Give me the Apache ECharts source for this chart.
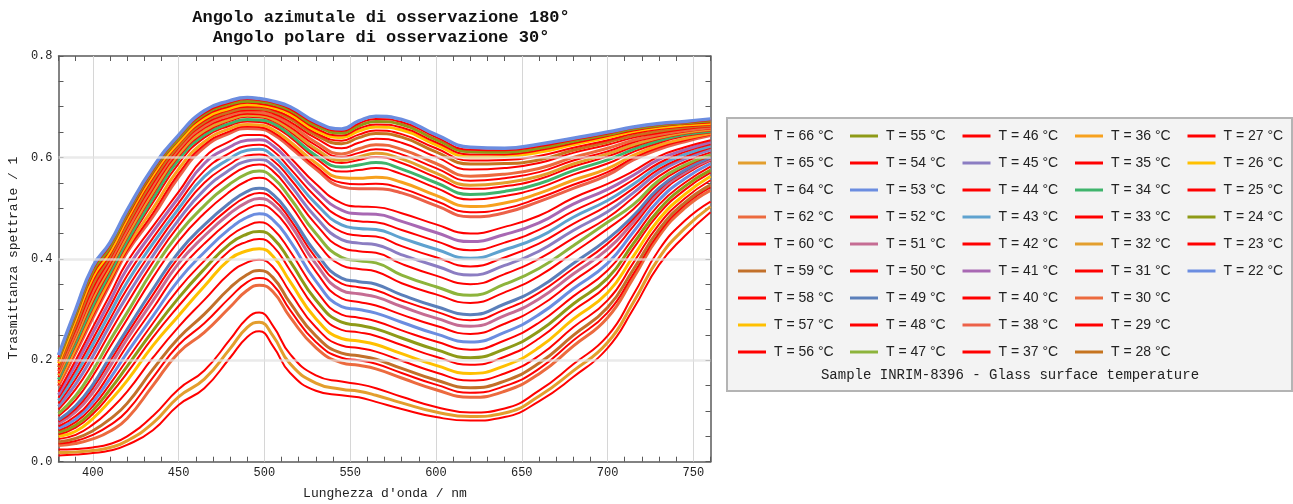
<!DOCTYPE html>
<html><head><meta charset="utf-8">
<script src="https://cdn.jsdelivr.net/npm/echarts@6/dist/echarts.min.js"></script>
<style>html,body{margin:0;padding:0;background:#fff}#c{width:1293px;height:504px}</style>
</head><body><div id="c"></div>
<script>
// wavelengths (nm)
const wavelengths = [380,390,400,410,420,435,450,465,480,490,497,505,515,530,545,555,565,580,600,620,640,660,680,700,715,730,745,760];
// spectral transmittance per surface temperature
const T66 = [0.012,0.014,0.017,0.022,0.033,0.062,0.112,0.145,0.205,0.246,0.257,0.228,0.175,0.140,0.131,0.127,0.118,0.104,0.088,0.081,0.088,0.119,0.167,0.224,0.301,0.388,0.445,0.492];
const T65 = [0.018,0.019,0.022,0.028,0.041,0.076,0.128,0.163,0.223,0.265,0.275,0.248,0.193,0.155,0.143,0.139,0.131,0.116,0.098,0.089,0.096,0.129,0.179,0.235,0.314,0.402,0.460,0.503];
const T64 = [0.024,0.025,0.028,0.035,0.050,0.090,0.143,0.180,0.241,0.283,0.294,0.268,0.212,0.170,0.158,0.153,0.145,0.128,0.108,0.097,0.105,0.140,0.192,0.248,0.329,0.418,0.475,0.513];
const T62 = [0.032,0.036,0.045,0.060,0.085,0.150,0.215,0.255,0.305,0.338,0.348,0.335,0.285,0.225,0.195,0.190,0.183,0.165,0.142,0.127,0.139,0.173,0.228,0.284,0.362,0.445,0.500,0.535];
const T60 = [0.036,0.041,0.053,0.072,0.100,0.166,0.230,0.273,0.324,0.354,0.362,0.349,0.299,0.236,0.205,0.200,0.193,0.175,0.152,0.136,0.149,0.183,0.239,0.294,0.370,0.451,0.506,0.541];
const T59 = [0.039,0.046,0.061,0.084,0.115,0.182,0.244,0.291,0.343,0.369,0.377,0.363,0.313,0.248,0.214,0.209,0.202,0.184,0.161,0.146,0.159,0.194,0.249,0.304,0.379,0.458,0.511,0.546];
const T58 = [0.045,0.053,0.073,0.102,0.138,0.205,0.266,0.319,0.372,0.393,0.398,0.384,0.334,0.265,0.229,0.224,0.217,0.199,0.176,0.160,0.174,0.209,0.265,0.318,0.392,0.468,0.519,0.555];
const T57 = [0.050,0.060,0.085,0.120,0.160,0.229,0.288,0.346,0.400,0.416,0.420,0.405,0.355,0.282,0.243,0.238,0.231,0.213,0.190,0.174,0.189,0.225,0.281,0.333,0.405,0.478,0.527,0.563];
const T56 = [0.054,0.067,0.094,0.132,0.175,0.245,0.307,0.364,0.417,0.434,0.439,0.425,0.377,0.302,0.260,0.255,0.248,0.230,0.207,0.191,0.207,0.243,0.298,0.349,0.420,0.489,0.536,0.570];
const T55 = [0.058,0.072,0.101,0.142,0.188,0.258,0.323,0.380,0.430,0.449,0.454,0.441,0.395,0.319,0.275,0.269,0.262,0.244,0.221,0.205,0.222,0.257,0.311,0.362,0.430,0.497,0.543,0.575];
const T54 = [0.062,0.078,0.109,0.153,0.201,0.273,0.341,0.396,0.445,0.465,0.472,0.459,0.415,0.338,0.290,0.284,0.277,0.259,0.237,0.221,0.239,0.274,0.326,0.377,0.441,0.507,0.550,0.582];
const T53 = [0.066,0.084,0.117,0.164,0.215,0.287,0.358,0.413,0.460,0.482,0.489,0.477,0.435,0.356,0.306,0.300,0.293,0.275,0.252,0.236,0.255,0.290,0.341,0.391,0.453,0.516,0.558,0.588];
const T52 = [0.070,0.090,0.125,0.175,0.229,0.302,0.376,0.430,0.475,0.498,0.506,0.495,0.455,0.375,0.322,0.315,0.308,0.290,0.268,0.252,0.272,0.306,0.356,0.406,0.464,0.526,0.566,0.594];
const T51 = [0.075,0.098,0.136,0.188,0.242,0.317,0.391,0.445,0.490,0.512,0.519,0.508,0.468,0.390,0.338,0.331,0.325,0.306,0.283,0.267,0.288,0.321,0.370,0.419,0.472,0.532,0.570,0.596];
const T50 = [0.079,0.104,0.145,0.198,0.252,0.329,0.403,0.457,0.501,0.523,0.530,0.518,0.478,0.402,0.351,0.344,0.338,0.318,0.296,0.279,0.300,0.333,0.381,0.430,0.479,0.536,0.573,0.598];
const T49 = [0.082,0.110,0.152,0.207,0.261,0.340,0.413,0.467,0.511,0.533,0.539,0.527,0.487,0.412,0.362,0.355,0.350,0.329,0.306,0.290,0.311,0.343,0.391,0.439,0.485,0.540,0.575,0.600];
const T48 = [0.090,0.122,0.169,0.226,0.281,0.363,0.435,0.490,0.533,0.554,0.560,0.547,0.507,0.435,0.387,0.380,0.375,0.352,0.330,0.313,0.334,0.366,0.412,0.459,0.498,0.549,0.581,0.603];
const T47 = [0.095,0.130,0.180,0.239,0.294,0.378,0.450,0.505,0.548,0.568,0.573,0.560,0.520,0.450,0.403,0.396,0.392,0.368,0.345,0.328,0.350,0.381,0.426,0.472,0.507,0.555,0.585,0.605];
const T46 = [0.103,0.143,0.195,0.255,0.312,0.393,0.465,0.522,0.563,0.582,0.586,0.573,0.534,0.468,0.422,0.415,0.412,0.390,0.367,0.350,0.370,0.400,0.441,0.481,0.521,0.563,0.591,0.610];
const T45 = [0.109,0.153,0.208,0.269,0.327,0.406,0.477,0.536,0.576,0.593,0.596,0.584,0.546,0.482,0.438,0.431,0.428,0.408,0.386,0.368,0.387,0.415,0.456,0.493,0.530,0.571,0.597,0.615];
const T44 = [0.115,0.163,0.220,0.281,0.341,0.418,0.489,0.550,0.587,0.604,0.606,0.594,0.558,0.496,0.453,0.446,0.444,0.425,0.403,0.385,0.403,0.430,0.469,0.505,0.539,0.577,0.601,0.619];
const T43 = [0.121,0.172,0.231,0.293,0.354,0.430,0.499,0.562,0.598,0.614,0.616,0.603,0.568,0.509,0.467,0.460,0.458,0.441,0.419,0.401,0.418,0.443,0.482,0.515,0.547,0.583,0.606,0.622];
const T42 = [0.126,0.181,0.242,0.305,0.367,0.441,0.510,0.574,0.609,0.623,0.625,0.613,0.578,0.522,0.481,0.474,0.472,0.457,0.435,0.417,0.432,0.457,0.494,0.526,0.556,0.589,0.611,0.626];
const T41 = [0.132,0.191,0.254,0.317,0.381,0.453,0.521,0.588,0.621,0.634,0.635,0.623,0.590,0.535,0.496,0.489,0.488,0.474,0.452,0.434,0.448,0.471,0.508,0.537,0.565,0.596,0.615,0.630];
const T40 = [0.138,0.200,0.265,0.329,0.394,0.464,0.532,0.600,0.632,0.644,0.644,0.632,0.600,0.548,0.510,0.503,0.502,0.490,0.468,0.450,0.463,0.485,0.520,0.548,0.573,0.602,0.620,0.634];
const T38 = [0.149,0.214,0.283,0.350,0.413,0.483,0.561,0.620,0.648,0.657,0.656,0.646,0.620,0.577,0.542,0.538,0.538,0.530,0.505,0.483,0.491,0.513,0.539,0.565,0.595,0.616,0.631,0.643];
const T37 = [0.152,0.218,0.288,0.354,0.417,0.490,0.568,0.625,0.652,0.661,0.660,0.650,0.625,0.582,0.550,0.547,0.548,0.539,0.514,0.492,0.499,0.520,0.546,0.571,0.599,0.620,0.634,0.645];
const T36 = [0.155,0.223,0.294,0.360,0.423,0.499,0.577,0.631,0.657,0.665,0.664,0.655,0.631,0.589,0.560,0.559,0.561,0.551,0.525,0.503,0.510,0.529,0.555,0.578,0.604,0.624,0.637,0.647];
const T35 = [0.159,0.230,0.303,0.367,0.430,0.511,0.588,0.639,0.663,0.671,0.670,0.662,0.640,0.598,0.572,0.575,0.579,0.567,0.540,0.517,0.524,0.540,0.566,0.588,0.611,0.629,0.642,0.649];
const T34 = [0.162,0.235,0.308,0.372,0.435,0.519,0.596,0.644,0.667,0.675,0.674,0.667,0.645,0.604,0.581,0.585,0.590,0.577,0.550,0.527,0.533,0.548,0.574,0.595,0.616,0.633,0.645,0.651];
const T33 = [0.167,0.241,0.316,0.379,0.442,0.527,0.602,0.649,0.672,0.680,0.679,0.672,0.651,0.612,0.589,0.595,0.601,0.589,0.561,0.538,0.543,0.557,0.582,0.602,0.621,0.637,0.647,0.653];
const T32 = [0.170,0.245,0.322,0.384,0.446,0.532,0.606,0.653,0.675,0.683,0.682,0.675,0.655,0.617,0.594,0.601,0.608,0.597,0.569,0.545,0.550,0.563,0.587,0.607,0.625,0.639,0.649,0.655];
const T31 = [0.174,0.250,0.328,0.389,0.452,0.538,0.611,0.658,0.679,0.686,0.685,0.679,0.660,0.624,0.601,0.609,0.616,0.606,0.579,0.554,0.559,0.571,0.594,0.612,0.630,0.642,0.651,0.657];
const T30 = [0.178,0.255,0.335,0.395,0.457,0.544,0.616,0.662,0.683,0.690,0.689,0.683,0.665,0.630,0.607,0.617,0.625,0.616,0.588,0.563,0.567,0.578,0.600,0.618,0.634,0.645,0.653,0.659];
const T29 = [0.182,0.261,0.342,0.400,0.463,0.549,0.620,0.666,0.687,0.693,0.693,0.687,0.670,0.638,0.618,0.629,0.637,0.629,0.601,0.576,0.579,0.589,0.609,0.625,0.639,0.648,0.656,0.661];
const T28 = [0.186,0.268,0.350,0.405,0.468,0.555,0.623,0.670,0.690,0.697,0.696,0.691,0.676,0.644,0.627,0.639,0.647,0.640,0.611,0.587,0.588,0.595,0.614,0.630,0.643,0.652,0.659,0.663];
const T27 = [0.190,0.274,0.357,0.409,0.474,0.560,0.627,0.673,0.694,0.700,0.700,0.694,0.680,0.648,0.633,0.645,0.653,0.646,0.618,0.594,0.595,0.603,0.619,0.634,0.647,0.656,0.661,0.665];
const T26 = [0.194,0.280,0.364,0.414,0.479,0.565,0.630,0.677,0.697,0.704,0.703,0.698,0.685,0.653,0.639,0.652,0.660,0.654,0.625,0.601,0.602,0.610,0.625,0.639,0.651,0.659,0.664,0.667];
const T25 = [0.198,0.285,0.369,0.419,0.483,0.569,0.634,0.681,0.701,0.708,0.706,0.701,0.689,0.657,0.643,0.657,0.665,0.659,0.630,0.606,0.606,0.614,0.628,0.642,0.653,0.661,0.666,0.669];
const T24 = [0.202,0.290,0.375,0.423,0.488,0.573,0.637,0.685,0.705,0.711,0.710,0.705,0.693,0.662,0.648,0.662,0.671,0.665,0.635,0.611,0.610,0.618,0.632,0.645,0.656,0.663,0.668,0.672];
const T23 = [0.206,0.295,0.380,0.428,0.492,0.576,0.641,0.688,0.708,0.715,0.713,0.708,0.696,0.666,0.652,0.667,0.676,0.670,0.640,0.615,0.614,0.622,0.635,0.647,0.658,0.665,0.669,0.674];
const T22 = [0.210,0.300,0.385,0.432,0.496,0.580,0.644,0.692,0.712,0.718,0.716,0.711,0.700,0.670,0.656,0.672,0.681,0.675,0.645,0.620,0.618,0.626,0.638,0.650,0.660,0.667,0.671,0.676];

const legendColumns = [
  [66,65,64,62,60,59,58,57,56],
  [55,54,53,52,51,50,49,48,47],
  [46,45,44,43,42,41,40,38,37],
  [36,35,34,33,32,31,30,29,28],
  [27,26,25,24,23,22]
];
const xTickLabels = [400,450,500,550,600,650,700,750];
const yTickLabels = [0.0,0.2,0.4,0.6,0.8];
const titleLines = ['Angolo azimutale di osservazione 180°','Angolo polare di osservazione 30°'];
const xName = "Lunghezza d'onda / nm";
const yName = 'Trasmittanza spettrale / 1';
const legendTitle = 'Sample INRIM-8396 - Glass surface temperature';

const curves = {66:T66,65:T65,64:T64,62:T62,60:T60,59:T59,58:T58,57:T57,56:T56,55:T55,54:T54,53:T53,52:T52,51:T51,50:T50,49:T49,48:T48,47:T47,46:T46,45:T45,44:T44,43:T43,42:T42,41:T41,40:T40,38:T38,37:T37,36:T36,35:T35,34:T34,33:T33,32:T32,31:T31,30:T30,29:T29,28:T28,27:T27,26:T26,25:T25,24:T24,23:T23,22:T22};

const RED = '#ff0000';
const palette = {
  65:'#e39e2d',32:'#e39e2d',
  62:'#ec6a3e',30:'#ec6a3e',
  59:'#c2702a',28:'#c6741f',
  57:'#ffc000',26:'#ffc000',
  55:'#8e9a17',24:'#8e9a17',
  53:'#6b8de0',22:'#6b8de0',
  51:'#c56c93',49:'#5b7fba',47:'#8db43c',45:'#8b7dc2',43:'#5ea2cf',41:'#a868b3',
  38:'#ec6148',36:'#f7a11e',34:'#3fb46c'
};
const colorOf = t => palette[t] || RED;
const nameOf = t => 'T = ' + t + ' °C';

const order = [].concat(...legendColumns);
const series = order.map(t => {
  const c = colorOf(t);
  return {
    name: nameOf(t), type: 'line', xAxisIndex: 0, yAxisIndex: 0,
    data: wavelengths.map((w, i) => [w, curves[t][i]]),
    smooth: 0.5, symbol: 'none', showSymbol: false, silent: true,
    lineStyle: {color: c, width: t === 22 ? 3.5 : (c === RED ? 2 : 3)},
    itemStyle: {color: c},
    z: 2, animation: false
  };
});
// vertical grid lines (behind curves)
series.push({type:'line', xAxisIndex:0, yAxisIndex:0, data:[], silent:true,
  markLine:{silent:true, symbol:'none', z:1, animation:false, label:{show:false},
    lineStyle:{color:'#d6d6d6', width:1, type:'solid'},
    data: xTickLabels.map(v => ({xAxis: v}))}});
// horizontal grid lines (drawn over curves, semi-transparent)
series.push({type:'line', xAxisIndex:0, yAxisIndex:0, data:[], silent:true,
  markLine:{silent:true, symbol:'none', z:10, animation:false, label:{show:false},
    lineStyle:{color:'rgba(226,226,226,0.72)', width:2.5, type:'solid'},
    data: yTickLabels.slice(1,4).map(v => ({yAxis: v}))}});

const MONO = 'Liberation Mono, Courier New, monospace';
const axisLineStyle = {color:'#5a5a5a', width:1.5};
const tickStyle = {show:true, inside:true, length:5, lineStyle:{color:'#5a5a5a', width:1}};

const GL = 58.5, GT = 56, GW = 652, GH = 405.7;
const chart = echarts.init(document.getElementById('c'), null, {renderer:'canvas'});
chart.setOption({
  animation: false,
  backgroundColor: '#ffffff',
  grid: {left: GL, top: GT, width: GW, height: GH, containLabel: false},
  xAxis: [
    {type:'value', min:380, max:760, interval:10, position:'bottom',
     axisLine:{show:true, onZero:false, lineStyle:axisLineStyle}, axisTick:tickStyle,
     axisLabel:{formatter: v => xTickLabels.includes(Math.round(v)) ? String(Math.round(v)) : '', color:'#222', fontFamily:MONO, fontSize:12, margin:5},
     splitLine:{show:false}},
    {type:'value', min:380, max:760, interval:10, position:'top',
     axisLine:{show:true, onZero:false, lineStyle:axisLineStyle}, axisTick:tickStyle,
     axisLabel:{show:false}, splitLine:{show:false}}
  ],
  yAxis: [
    {type:'value', min:0, max:0.8, interval:0.05, position:'left',
     axisLine:{show:true, onZero:false, lineStyle:axisLineStyle}, axisTick:tickStyle,
     axisLabel:{formatter: v => { const r = Math.round(v*100); return (r % 20 === 0) ? (r/100).toFixed(1) : ''; }, color:'#222', fontFamily:MONO, fontSize:12, margin:6},
     splitLine:{show:false}},
    {type:'value', min:0, max:0.8, interval:0.05, position:'right',
     axisLine:{show:true, onZero:false, lineStyle:axisLineStyle}, axisTick:tickStyle,
     axisLabel:{show:false}, splitLine:{show:false}}
  ],
  legend: legendColumns.map((col, ci) => ({
    orient:'vertical', left: [738, 850, 962.5, 1075, 1187.5][ci], top: 129,
    padding: 0, itemWidth: 28, itemHeight: 3, itemGap: 13, icon: 'rect',
    selectedMode: false,
    itemStyle: {borderWidth: 0},
    textStyle: {fontFamily:'Liberation Sans, Arial, sans-serif', fontSize:14, color:'#222', lineHeight:14, padding:[0,0,0,3]},
    data: col.map(nameOf)
  })),
  graphic: [
    {type:'rect', z:-1, shape:{x:727, y:118, width:565, height:273}, style:{fill:'#f3f3f3', stroke:'#b4b4b4', lineWidth:2}},
    {type:'text', z:5, style:{x:1010, y:375, text:legendTitle, fill:'#222', font:'14px ' + MONO, textAlign:'center', textVerticalAlign:'middle'}},
    {type:'text', style:{x:381, y:18, text:titleLines[0], fill:'#111', font:'bold 17px ' + MONO, textAlign:'center', textVerticalAlign:'middle'}},
    {type:'text', style:{x:381, y:38, text:titleLines[1], fill:'#111', font:'bold 17px ' + MONO, textAlign:'center', textVerticalAlign:'middle'}},
    {type:'text', style:{x:385, y:494, text:xName, fill:'#222', font:'13px ' + MONO, textAlign:'center', textVerticalAlign:'middle'}},
    {type:'text', rotation: Math.PI/2, x:14, y:258, style:{x:0, y:0, text:yName, fill:'#222', font:'13px ' + MONO, textAlign:'center', textVerticalAlign:'middle'}}
  ],
  series: series
});
</script>
</body></html>
